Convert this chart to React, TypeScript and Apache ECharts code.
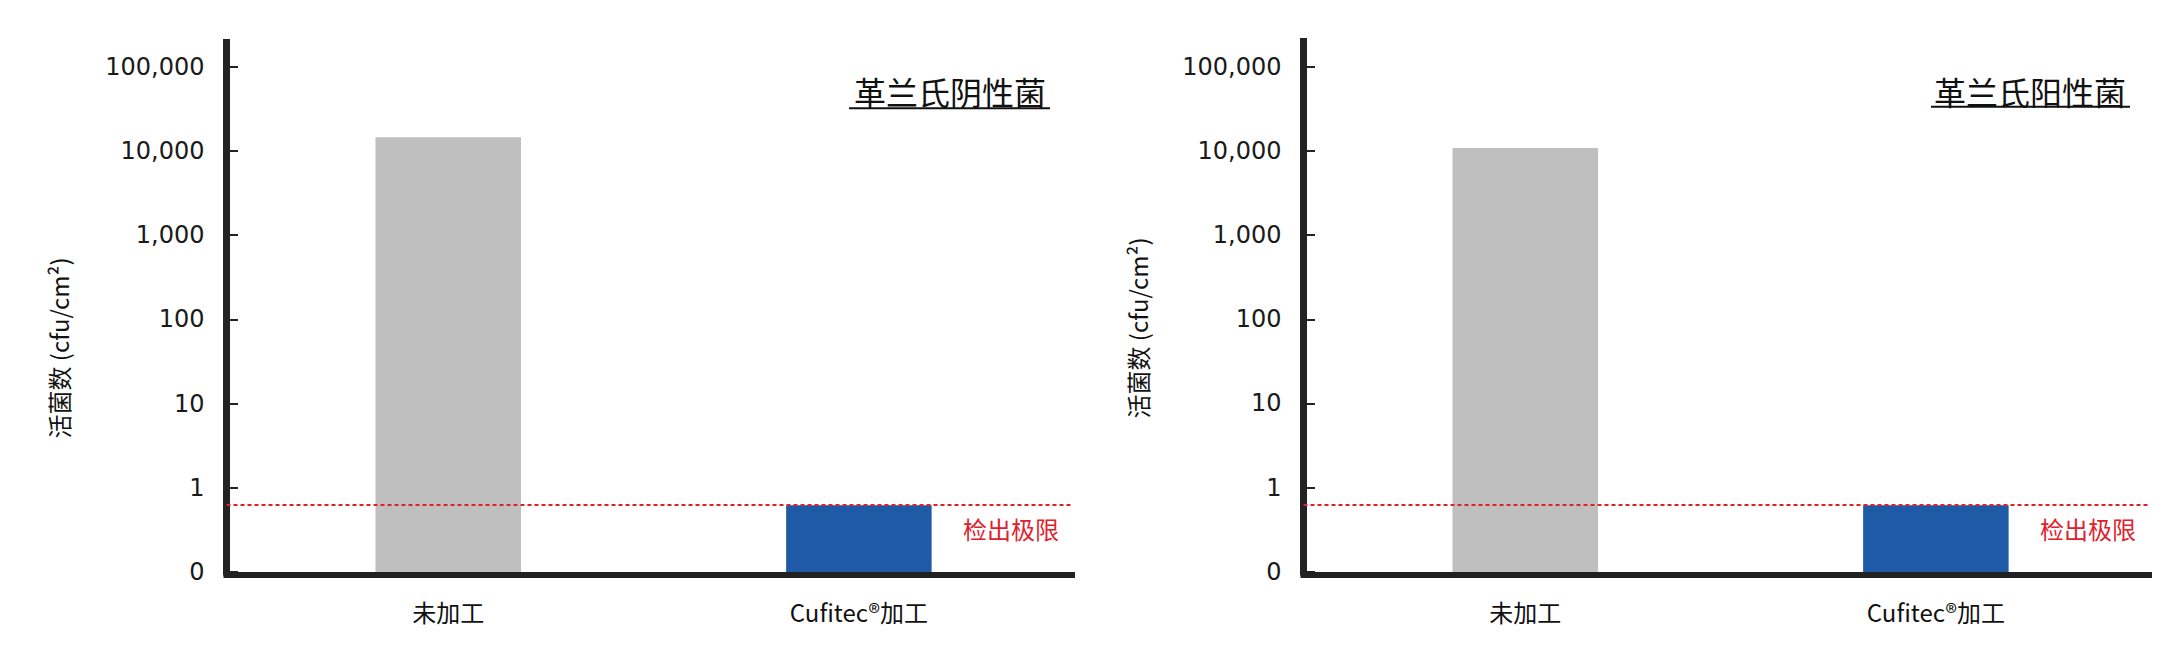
import * as echarts from "echarts"
import { useEffect, useRef } from "react"

// Two log-scale bar panels: viable counts, untreated vs Cufitec®-treated, with the detection limit.
const categories = ["未加工", "Cufitec®加工"]
const panelTitles = ["革兰氏阴性菌", "革兰氏阳性菌"]
const gramNegative = [14500, 0.62]
const gramPositive = [10800, 0.62]
const detectionLimit = 0.62
const yTicks = [0.1, 1, 10, 100, 1000, 10000, 100000]
const barColors = ["#bfbfbf", "#1f5aa7"]

const Y_MIN = 0.1
const CJK = "'Noto Sans CJK SC', 'Noto Sans', sans-serif"
const DIGITS = "'DejaVu Sans', sans-serif"
const INK = "#222"
const RED = "#e0202c"
const BAR_WIDTH = 145.5

const panels = [
  { values: gramNegative, left: 226.5, top: 42.5, yMax: 194000, title: { cx: 950, cy: 91, x1: 849, x2: 1050, uy: 108.3 }, name: { x: 58, y: 348 } },
  { values: gramPositive, left: 1303.5, top: 41.5, yMax: 199000, title: { cx: 2030, cy: 90.5, x1: 1931, x2: 2130, uy: 106.7 }, name: { x: 1137, y: 328 } },
]

function formatTick(v: number) {
  return v < 1 ? "0" : Math.round(v).toLocaleString("en-US")
}

export default function App() {
  const ref = useRef<HTMLDivElement>(null)

  useEffect(() => {
    document.body.style.margin = "0"
    if (!ref.current) return
    const chart = echarts.init(ref.current, null, { renderer: "svg" })

    const grid = panels.map((p) => ({ left: p.left, top: p.top, width: 845.5, bottom: 86.1 }))

    const xAxis = panels.map((_, i) => ({
      type: "value",
      gridIndex: i,
      min: -0.54,
      max: 1.519,
      offset: 3,
      splitLine: { show: false },
      axisTick: { show: false },
      axisLine: { onZero: false, lineStyle: { color: INK, width: 6, cap: "square" } },
      axisLabel: {
        customValues: [0, 1],
        margin: 25,
        fontFamily: CJK,
        fontSize: 24,
        color: "#111",
        formatter: (v: number) => categories[Math.round(v)],
      },
    }))

    const yAxis = panels.map((p, i) => ({
      type: "log",
      gridIndex: i,
      logBase: 10,
      min: Y_MIN,
      max: p.yMax,
      splitLine: { show: false },
      axisLine: { onZero: false, lineStyle: { color: INK, width: 7, cap: "square" } },
      axisTick: { inside: true, length: 11.5, customValues: yTicks, lineStyle: { color: INK, width: 2 } },
      axisLabel: {
        customValues: yTicks,
        margin: 22,
        fontFamily: DIGITS,
        fontSize: 24,
        color: "#1a1a1a",
        formatter: formatTick,
      },
    }))

    const series = panels.map((p, i) => ({
      type: "custom",
      xAxisIndex: i,
      yAxisIndex: i,
      data: p.values.map((v, k) => [k, v]),
      renderItem: (params: any, api: any) => {
        const x = api.value(0)
        const top = api.coord([x, api.value(1)])
        const base = api.coord([x, Y_MIN])
        return {
          type: "rect",
          shape: { x: top[0] - BAR_WIDTH / 2, y: top[1], width: BAR_WIDTH, height: base[1] - top[1] },
          style: { fill: barColors[params.dataIndex] },
        }
      },
      markLine: {
        silent: true,
        symbol: ["none", "none"],
        lineStyle: { color: RED, type: [4, 3], width: 2 },
        label: {
          show: true,
          position: "insideEndBottom",
          formatter: "检出极限",
          fontFamily: CJK,
          fontSize: 24,
          color: RED,
          distance: [13, 11],
        },
        data: [{ yAxis: detectionLimit }],
      },
    }))

    const graphic = panels.flatMap((p, i) => [
      {
        type: "text",
        x: p.title.cx,
        y: p.title.cy,
        style: { text: panelTitles[i], font: `32px ${CJK}`, fill: "#111", align: "center", verticalAlign: "middle" },
      },
      {
        type: "line",
        shape: { x1: p.title.x1, y1: p.title.uy, x2: p.title.x2, y2: p.title.uy },
        style: { stroke: "#111", lineWidth: 2 },
      },
      {
        type: "text",
        x: p.name.x,
        y: p.name.y,
        rotation: Math.PI / 2,
        style: { text: "活菌数 (cfu/cm²)", font: `24px ${CJK}`, fill: "#111", align: "center", verticalAlign: "middle" },
      },
    ])

    chart.setOption({ animation: false, grid, xAxis, yAxis, series, graphic })

    return () => chart.dispose()
  }, [])

  return <div ref={ref} style={{ width: 2168, height: 658 }} />
}
